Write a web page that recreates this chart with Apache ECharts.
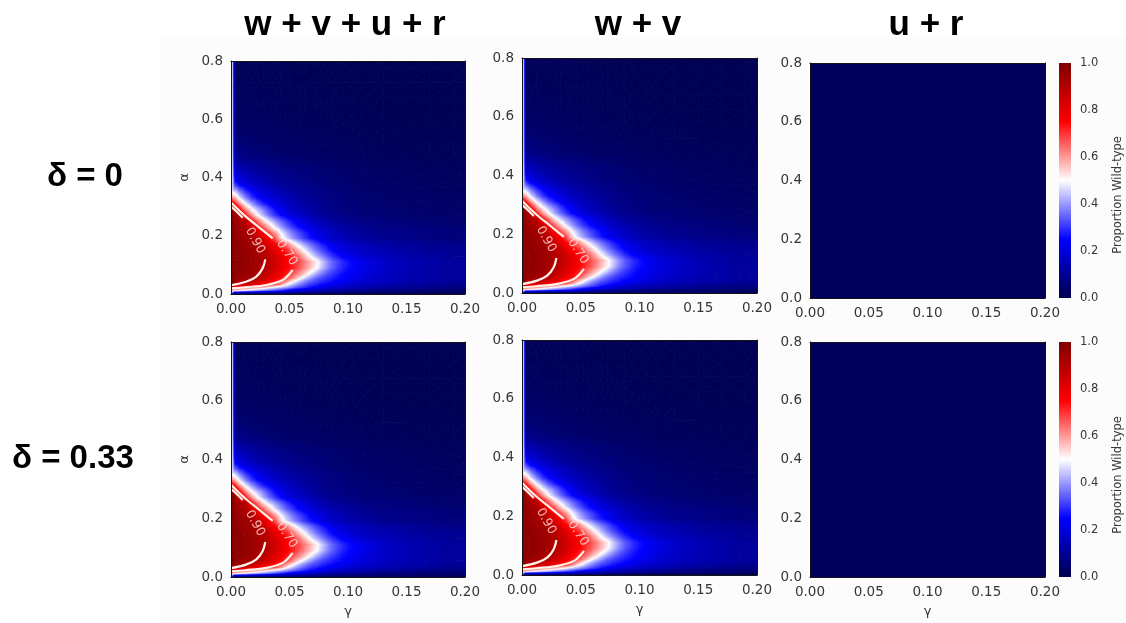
<!DOCTYPE html>
<html>
<head>
<meta charset="utf-8">
<script src="https://cdn.jsdelivr.net/npm/echarts@6/dist/echarts.min.js"></script>
<style>
  html, body { margin: 0; padding: 0; background: #ffffff; }
  #chart { width: 1126px; height: 623px; }
</style>
</head>
<body>
<div id="chart"></div>
<script>
// ---- grid of the (gamma, alpha) parameter plane ----
// cell edges along gamma (x) and alpha (y); first gamma cell is the gamma = 0 column
const gammaEdges = [0, 0.0012, 0.005, 0.01, 0.015, 0.02, 0.025, 0.03, 0.035, 0.04, 0.045,
  0.05, 0.055, 0.06, 0.065, 0.07, 0.075, 0.08, 0.085, 0.09, 0.10, 0.11, 0.12, 0.14, 0.16, 0.18, 0.20];
const alphaEdges = [0, 0.01, 0.02, 0.03, 0.04, 0.05, 0.06, 0.08, 0.10, 0.12, 0.14, 0.16, 0.18,
  0.20, 0.22, 0.24, 0.26, 0.28, 0.30, 0.32, 0.34, 0.36, 0.38, 0.40, 0.45, 0.50, 0.55, 0.60,
  0.65, 0.70, 0.75, 0.80];

// proportion wild-type, one row per alpha cell (bottom to top), one value per gamma cell
// (w + v + u + r and w + v give the same surface for both delta values)
const proportionWildType = [
  [0.30, 0.10, 0.095, 0.09, 0.085, 0.08, 0.078, 0.075, 0.072, 0.07, 0.067, 0.064, 0.061, 0.058, 0.055, 0.052, 0.05, 0.048, 0.046, 0.043, 0.04, 0.037, 0.033, 0.03, 0.027, 0.024],
  [0.62, 0.55, 0.52, 0.49, 0.46, 0.43, 0.40, 0.37, 0.34, 0.31, 0.27, 0.24, 0.22, 0.20, 0.18, 0.165, 0.15, 0.14, 0.13, 0.12, 0.105, 0.095, 0.08, 0.07, 0.06, 0.05],
  [0.85, 0.78, 0.74, 0.69, 0.65, 0.61, 0.57, 0.53, 0.49, 0.45, 0.41, 0.37, 0.33, 0.30, 0.27, 0.245, 0.225, 0.205, 0.19, 0.17, 0.15, 0.135, 0.115, 0.10, 0.085, 0.075],
  [0.97, 0.90, 0.87, 0.85, 0.82, 0.79, 0.76, 0.72, 0.68, 0.61, 0.52, 0.45, 0.39, 0.35, 0.31, 0.29, 0.265, 0.25, 0.23, 0.21, 0.185, 0.165, 0.145, 0.125, 0.11, 0.095],
  [0.99, 0.94, 0.92, 0.90, 0.87, 0.84, 0.81, 0.77, 0.73, 0.68, 0.60, 0.52, 0.45, 0.39, 0.35, 0.32, 0.295, 0.275, 0.255, 0.23, 0.20, 0.18, 0.155, 0.135, 0.12, 0.105],
  [0.99, 0.96, 0.95, 0.93, 0.915, 0.895, 0.86, 0.82, 0.78, 0.73, 0.68, 0.61, 0.53, 0.46, 0.40, 0.35, 0.32, 0.295, 0.275, 0.25, 0.22, 0.195, 0.165, 0.14, 0.125, 0.11],
  [0.99, 0.97, 0.965, 0.95, 0.935, 0.915, 0.885, 0.85, 0.81, 0.77, 0.72, 0.67, 0.61, 0.55, 0.48, 0.42, 0.37, 0.33, 0.30, 0.265, 0.23, 0.20, 0.17, 0.145, 0.125, 0.11],
  [0.99, 0.975, 0.97, 0.96, 0.945, 0.925, 0.905, 0.87, 0.835, 0.795, 0.755, 0.715, 0.67, 0.615, 0.56, 0.505, 0.44, 0.38, 0.335, 0.285, 0.24, 0.21, 0.175, 0.145, 0.125, 0.11],
  [0.99, 0.975, 0.97, 0.96, 0.945, 0.93, 0.91, 0.875, 0.84, 0.80, 0.76, 0.72, 0.68, 0.63, 0.575, 0.52, 0.45, 0.39, 0.34, 0.29, 0.245, 0.21, 0.175, 0.145, 0.125, 0.11],
  [0.99, 0.975, 0.97, 0.96, 0.945, 0.925, 0.905, 0.87, 0.83, 0.79, 0.75, 0.705, 0.64, 0.57, 0.495, 0.43, 0.375, 0.33, 0.29, 0.245, 0.205, 0.18, 0.155, 0.13, 0.115, 0.10],
  [0.99, 0.975, 0.965, 0.955, 0.94, 0.92, 0.89, 0.85, 0.80, 0.745, 0.705, 0.64, 0.56, 0.49, 0.42, 0.365, 0.32, 0.28, 0.245, 0.21, 0.18, 0.16, 0.14, 0.12, 0.105, 0.095],
  [0.99, 0.97, 0.96, 0.945, 0.93, 0.90, 0.85, 0.80, 0.75, 0.70, 0.63, 0.54, 0.47, 0.41, 0.36, 0.32, 0.28, 0.25, 0.22, 0.19, 0.165, 0.145, 0.125, 0.11, 0.095, 0.085],
  [0.99, 0.965, 0.955, 0.935, 0.915, 0.87, 0.81, 0.75, 0.67, 0.54, 0.46, 0.40, 0.35, 0.305, 0.27, 0.24, 0.21, 0.185, 0.165, 0.145, 0.125, 0.11, 0.095, 0.082, 0.072, 0.063],
  [0.99, 0.96, 0.945, 0.925, 0.90, 0.83, 0.75, 0.67, 0.59, 0.49, 0.42, 0.365, 0.32, 0.285, 0.25, 0.225, 0.20, 0.18, 0.16, 0.14, 0.12, 0.105, 0.09, 0.08, 0.07, 0.06],
  [0.99, 0.95, 0.935, 0.905, 0.84, 0.74, 0.65, 0.56, 0.47, 0.40, 0.345, 0.30, 0.26, 0.23, 0.205, 0.185, 0.165, 0.15, 0.135, 0.12, 0.10, 0.09, 0.078, 0.068, 0.06, 0.053],
  [0.99, 0.94, 0.92, 0.885, 0.75, 0.64, 0.54, 0.46, 0.40, 0.345, 0.30, 0.26, 0.23, 0.205, 0.18, 0.16, 0.145, 0.13, 0.115, 0.10, 0.088, 0.078, 0.068, 0.058, 0.052, 0.046],
  [0.99, 0.93, 0.89, 0.72, 0.60, 0.50, 0.42, 0.355, 0.30, 0.255, 0.22, 0.195, 0.175, 0.155, 0.14, 0.125, 0.11, 0.10, 0.09, 0.08, 0.07, 0.062, 0.055, 0.05, 0.045, 0.04],
  [0.95, 0.90, 0.74, 0.60, 0.50, 0.43, 0.37, 0.31, 0.26, 0.225, 0.195, 0.17, 0.155, 0.14, 0.125, 0.11, 0.10, 0.09, 0.08, 0.072, 0.064, 0.056, 0.05, 0.045, 0.04, 0.036],
  [0.78, 0.72, 0.59, 0.48, 0.40, 0.33, 0.28, 0.245, 0.215, 0.19, 0.17, 0.15, 0.135, 0.12, 0.11, 0.10, 0.09, 0.082, 0.075, 0.068, 0.06, 0.053, 0.047, 0.042, 0.037, 0.033],
  [0.60, 0.57, 0.46, 0.37, 0.30, 0.255, 0.225, 0.20, 0.18, 0.16, 0.145, 0.132, 0.12, 0.11, 0.10, 0.092, 0.084, 0.077, 0.07, 0.063, 0.056, 0.05, 0.045, 0.04, 0.035, 0.031],
  [0.48, 0.46, 0.37, 0.30, 0.255, 0.22, 0.195, 0.175, 0.158, 0.143, 0.13, 0.12, 0.11, 0.10, 0.092, 0.085, 0.078, 0.072, 0.066, 0.06, 0.053, 0.047, 0.042, 0.037, 0.033, 0.029],
  [0.46, 0.33, 0.27, 0.23, 0.20, 0.175, 0.158, 0.143, 0.13, 0.12, 0.11, 0.10, 0.093, 0.086, 0.08, 0.074, 0.069, 0.064, 0.059, 0.054, 0.048, 0.043, 0.038, 0.034, 0.03, 0.027],
  [0.46, 0.24, 0.205, 0.18, 0.16, 0.143, 0.13, 0.118, 0.108, 0.10, 0.092, 0.085, 0.079, 0.074, 0.069, 0.064, 0.06, 0.056, 0.052, 0.048, 0.043, 0.039, 0.035, 0.031, 0.028, 0.025],
  [0.46, 0.17, 0.15, 0.135, 0.122, 0.111, 0.102, 0.094, 0.087, 0.081, 0.076, 0.071, 0.067, 0.063, 0.059, 0.056, 0.053, 0.05, 0.047, 0.043, 0.039, 0.035, 0.032, 0.029, 0.026, 0.023],
  [0.46, 0.09, 0.08, 0.072, 0.066, 0.061, 0.057, 0.053, 0.05, 0.047, 0.045, 0.043, 0.041, 0.039, 0.037, 0.035, 0.034, 0.033, 0.031, 0.029, 0.027, 0.025, 0.023, 0.021, 0.019, 0.018],
  [0.46, 0.06, 0.055, 0.051, 0.048, 0.045, 0.042, 0.04, 0.038, 0.036, 0.034, 0.033, 0.031, 0.03, 0.029, 0.028, 0.027, 0.026, 0.025, 0.024, 0.022, 0.021, 0.019, 0.018, 0.017, 0.016],
  [0.46, 0.042, 0.039, 0.037, 0.035, 0.033, 0.032, 0.03, 0.029, 0.028, 0.027, 0.026, 0.025, 0.024, 0.023, 0.022, 0.022, 0.021, 0.02, 0.019, 0.018, 0.017, 0.016, 0.015, 0.014, 0.014],
  [0.46, 0.032, 0.03, 0.029, 0.027, 0.026, 0.025, 0.024, 0.023, 0.022, 0.022, 0.021, 0.02, 0.02, 0.019, 0.019, 0.018, 0.018, 0.017, 0.016, 0.016, 0.015, 0.014, 0.013, 0.013, 0.012],
  [0.46, 0.026, 0.025, 0.024, 0.023, 0.022, 0.021, 0.021, 0.02, 0.02, 0.019, 0.019, 0.018, 0.018, 0.017, 0.017, 0.016, 0.016, 0.015, 0.015, 0.014, 0.013, 0.013, 0.012, 0.012, 0.011],
  [0.46, 0.022, 0.021, 0.02, 0.02, 0.019, 0.019, 0.018, 0.018, 0.017, 0.017, 0.016, 0.016, 0.016, 0.015, 0.015, 0.015, 0.014, 0.014, 0.013, 0.013, 0.012, 0.012, 0.011, 0.011, 0.01],
  [0.46, 0.019, 0.018, 0.018, 0.017, 0.017, 0.016, 0.016, 0.016, 0.015, 0.015, 0.015, 0.014, 0.014, 0.014, 0.013, 0.013, 0.013, 0.012, 0.012, 0.012, 0.011, 0.011, 0.01, 0.01, 0.01]
];

// u + r: uniformly low over the whole plane
const proportionUR = 0.02;

// labelled contour levels (gamma, alpha), broken where the inline labels sit
const contour90Upper = [[0, 0.300], [0.004, 0.286], [0.010, 0.262]];
const contour90Lower = [[0, 0.030], [0.0128, 0.042], [0.0214, 0.059], [0.027, 0.088], [0.0293, 0.119]];
const contour70Upper = [[0, 0.314], [0.012, 0.268], [0.024, 0.229], [0.0356, 0.191]];
const contour70Lower = [[0.0527, 0.0824], [0.0442, 0.048], [0.030, 0.031], [0.012, 0.023], [0, 0.019]];
const contourLabels = [[0.0205, 0.183, '0.90'], [0.0476, 0.142, '0.70']];

// text
const columnTitles = ['w + v + u + r', 'w + v', 'u + r'];
const rowTitles = ['δ = 0', 'δ = 0.33'];
const colorbarTitle = 'Proportion Wild-type';
const gammaName = 'γ';
const alphaName = 'α';

// seismic colour ramp, 0 -> 1
const seismic = ['#00004d', '#0000ff', '#ffffff', '#ff0000', '#800000'];

// ---- layout ----
const panels = [
  { box: [231, 61, 234, 233], field: 'wt', alpha: true, gamma: false },
  { box: [522, 58, 235, 235], field: 'wt', alpha: false, gamma: false },
  { box: [810, 63, 235, 235], field: 'ur', alpha: false, gamma: false },
  { box: [231, 342, 234, 235], field: 'wt', alpha: true, gamma: true },
  { box: [522, 340, 235, 235], field: 'wt', alpha: false, gamma: true },
  { box: [810, 342, 235, 235], field: 'ur', alpha: false, gamma: true }
];
const colorbars = [[1059, 63, 12, 235], [1059, 342, 12, 235]];

const tickFont = 'DejaVu Sans';
const tickColor = '#363636';

// ---- colour lookup on the seismic ramp ----
const rampRGB = seismic.map(h => [1, 3, 5].map(o => parseInt(h.substr(o, 2), 16)));
function rampColor(v) {
  const x = Math.max(0, Math.min(1, v)) * (rampRGB.length - 1);
  const i = Math.min(rampRGB.length - 2, Math.floor(x));
  const t = x - i;
  const c = rampRGB[i].map((a, k) => Math.round(a + (rampRGB[i + 1][k] - a) * t));
  return 'rgb(' + c.join(',') + ')';
}

// ---- shaded surface: grid values sit at cell centres, shaded as filled bands ----
// band boundaries: fine steps in the dark low range, then 0.0125 steps
const bandLevels = [];
for (let k = 0; k < 30; k++) bandLevels.push(+(k * 0.005).toFixed(4));
for (let k = 0; k < 68; k++) bandLevels.push(+(0.15 + k * 0.0125).toFixed(4));
bandLevels.push(1.0001);
const NBANDS = bandLevels.length - 1;
const bandColors = bandLevels.slice(0, -1).map((l, k) => rampColor((l + Math.min(1, bandLevels[k + 1])) / 2));

function bandIndex(v) {
  let k = 0;
  while (k < NBANDS - 1 && bandLevels[k + 1] <= v) k++;
  return k;
}
function centres(edges) {
  const c = [];
  for (let i = 0; i < edges.length - 1; i++) c.push((edges[i] + edges[i + 1]) / 2);
  return c;
}
function surfaceQuads(grid) {
  const gN = [gammaEdges[0], ...centres(gammaEdges), gammaEdges[gammaEdges.length - 1]];
  const aN = [alphaEdges[0], ...centres(alphaEdges), alphaEdges[alphaEdges.length - 1]];
  const rows = grid.map(r => [r[0], ...r, r[r.length - 1]]);
  const V = [rows[0], ...rows, rows[rows.length - 1]];
  const out = [];
  for (let j = 0; j < aN.length - 1; j++) {
    for (let i = 0; i < gN.length - 1; i++) {
      out.push([gN[i], gN[i + 1], aN[j], aN[j + 1], V[j][i], V[j][i + 1], V[j + 1][i], V[j + 1][i + 1]]);
    }
  }
  return out;
}

// part of a triangle where the value is >= level
function clipAbove(pts, vals, level) {
  const out = [];
  for (let k = 0; k < pts.length; k++) {
    const n = (k + 1) % pts.length;
    const inA = vals[k] >= level, inB = vals[n] >= level;
    if (inA) out.push(pts[k]);
    if (inA !== inB) {
      const t = (level - vals[k]) / (vals[n] - vals[k]);
      out.push([pts[k][0] + (pts[n][0] - pts[k][0]) * t, pts[k][1] + (pts[n][1] - pts[k][1]) * t]);
    }
  }
  return out;
}
// bands are stacked by level (z2) so higher bands always paint over lower ones
function bandPoly(points, k) {
  const c = bandColors[k];
  return { type: 'polygon', z2: k, shape: { points: points }, style: { fill: c, stroke: c, lineWidth: 0.8 } };
}
function renderSurface(params, api) {
  const g0 = api.value(0), g1 = api.value(1), a0 = api.value(2), a1 = api.value(3);
  const v = [api.value(4), api.value(5), api.value(6), api.value(7)];
  const p = [api.coord([g0, a0]), api.coord([g1, a0]), api.coord([g0, a1]), api.coord([g1, a1])];
  const children = [];
  [[0, 1, 3], [0, 3, 2]].forEach(t => {
    const pts = t.map(k => p[k]);
    const vals = t.map(k => v[k]);
    const lo = Math.min(...vals), hi = Math.max(...vals);
    const k0 = bandIndex(lo);
    children.push(bandPoly(pts, k0));
    for (let k = k0 + 1; k < NBANDS && bandLevels[k] < hi; k++) {
      const cl = clipAbove(pts, vals, bandLevels[k]);
      if (cl.length >= 3) children.push(bandPoly(cl, k));
    }
  });
  return { type: 'group', children: children };
}
function renderFlat(params, api) {
  const p0 = api.coord([api.value(0), api.value(3)]);
  const p1 = api.coord([api.value(1), api.value(2)]);
  return {
    type: 'rect',
    shape: { x: p0[0], y: p0[1], width: p1[0] - p0[0], height: p1[1] - p0[1] },
    style: { fill: rampColor(api.value(4)) }
  };
}
function renderColorbar(params, api) {
  const p0 = api.coord([api.value(0), api.value(3)]);
  const p1 = api.coord([api.value(1), api.value(2)]);
  return {
    type: 'rect',
    shape: { x: p0[0], y: p0[1], width: p1[0] - p0[0], height: p1[1] - p0[1] },
    style: {
      fill: {
        type: 'linear', x: 0, y: 0, x2: 0, y2: 1,
        colorStops: seismic.slice().reverse().map((c, n) => ({ offset: n / (seismic.length - 1), color: c }))
      }
    }
  };
}

const wtQuads = surfaceQuads(proportionWildType);
const urCells = [[0, 0.2, 0, 0.8, proportionUR]];

const grids = [], xAxes = [], yAxes = [], series = [];
const frameLine = { show: true, onZero: false, lineStyle: { color: '#141414', width: 1 } };

panels.forEach((p, i) => {
  grids.push({ left: p.box[0], top: p.box[1], width: p.box[2], height: p.box[3], containLabel: false });
  xAxes.push({
    gridIndex: i, type: 'value', min: 0, max: 0.2, interval: 0.05, position: 'bottom', z: 5,
    axisLine: frameLine, axisTick: { show: false }, splitLine: { show: false },
    axisLabel: { formatter: v => v.toFixed(2), fontSize: 13.5, color: tickColor, fontFamily: tickFont, margin: 8 },
    name: p.gamma ? gammaName : '', nameLocation: 'middle', nameGap: 28,
    nameTextStyle: { fontSize: 13, color: tickColor, fontFamily: tickFont }
  });
  xAxes.push({
    gridIndex: i, type: 'value', min: 0, max: 0.2, position: 'top', z: 5,
    axisLine: frameLine, axisTick: { show: false }, splitLine: { show: false }, axisLabel: { show: false }
  });
  yAxes.push({
    gridIndex: i, type: 'value', min: 0, max: 0.8, interval: 0.2, position: 'left', z: 5,
    axisLine: frameLine, axisTick: { show: false }, splitLine: { show: false },
    axisLabel: { formatter: v => v.toFixed(1), fontSize: 13.5, color: tickColor, fontFamily: tickFont, margin: 8 },
    name: p.alpha ? alphaName : '', nameLocation: 'middle', nameGap: 40, nameRotate: 90,
    nameTextStyle: { fontSize: 13, color: tickColor, fontFamily: tickFont }
  });
  yAxes.push({
    gridIndex: i, type: 'value', min: 0, max: 0.8, position: 'right', z: 5,
    axisLine: frameLine, axisTick: { show: false }, splitLine: { show: false }, axisLabel: { show: false }
  });

  series.push({
    type: 'custom', xAxisIndex: 2 * i, yAxisIndex: 2 * i, clip: true, silent: true, z: 1,
    renderItem: p.field === 'wt' ? renderSurface : renderFlat,
    encode: { x: [0, 1], y: [2, 3] },
    data: p.field === 'wt' ? wtQuads : urCells
  });

  if (p.field === 'wt') {
    [contour90Upper, contour90Lower, contour70Upper, contour70Lower].forEach(seg => {
      series.push({
        type: 'line', xAxisIndex: 2 * i, yAxisIndex: 2 * i, data: seg, smooth: 0.35,
        symbol: 'none', silent: true, z: 3, clip: true,
        lineStyle: { color: '#fff2ea', width: 2.2 }
      });
    });
    series.push({
      type: 'scatter', xAxisIndex: 2 * i, yAxisIndex: 2 * i, silent: true, z: 4,
      symbolSize: 2, itemStyle: { color: 'rgba(0,0,0,0)' },
      data: contourLabels.map((c, k) => ({
        value: c,
        label: { rotate: k === 0 ? -61 : -57 }
      })),
      label: {
        show: true, position: 'inside', formatter: q => q.value[2],
        fontSize: 12.5, color: '#ffe6de', fontFamily: tickFont
      },
      labelLayout: { hideOverlap: false }
    });
  }
});

// colour bars (grids 6 and 7, axes 12 and 13)
colorbars.forEach((b, k) => {
  const gi = panels.length + k;
  const ai = panels.length * 2 + k;
  grids.push({ left: b[0], top: b[1], width: b[2], height: b[3] });
  xAxes.push({ gridIndex: gi, type: 'value', min: 0, max: 1, show: false });
  yAxes.push({
    gridIndex: gi, type: 'value', min: 0, max: 1, interval: 0.2, position: 'right',
    axisLine: { show: false }, axisTick: { show: false }, splitLine: { show: false },
    axisLabel: { formatter: v => v.toFixed(1), fontSize: 11.5, color: tickColor, fontFamily: tickFont, margin: 9 }
  });
  series.push({
    type: 'custom', xAxisIndex: ai, yAxisIndex: ai, silent: true,
    data: [[0, 1, 0, 1]], encode: { x: [0, 1], y: [2, 3] },
    renderItem: renderColorbar
  });
});

const titleFont = '"Liberation Sans", Arial, sans-serif';
const graphics = [
  { type: 'rect', z: -10, shape: { x: 160, y: 38, width: 966, height: 585 }, style: { fill: '#fcfcfc' }, silent: true },
  { type: 'text', x: 345, y: 25, style: { text: columnTitles[0], font: 'bold 35px ' + titleFont, fill: '#000', align: 'center', verticalAlign: 'middle' } },
  { type: 'text', x: 638, y: 25, style: { text: columnTitles[1], font: 'bold 35px ' + titleFont, fill: '#000', align: 'center', verticalAlign: 'middle' } },
  { type: 'text', x: 926, y: 25, style: { text: columnTitles[2], font: 'bold 35px ' + titleFont, fill: '#000', align: 'center', verticalAlign: 'middle' } },
  { type: 'text', x: 47, y: 177, style: { text: rowTitles[0], font: 'bold 33px ' + titleFont, fill: '#000', align: 'left', verticalAlign: 'middle' } },
  { type: 'text', x: 12, y: 459, style: { text: rowTitles[1], font: 'bold 33px ' + titleFont, fill: '#000', align: 'left', verticalAlign: 'middle' } },
  { type: 'text', x: 1118, y: 195, rotation: Math.PI / 2, style: { text: colorbarTitle, font: '11.5px "DejaVu Sans"', fill: tickColor, align: 'center', verticalAlign: 'middle' } },
  { type: 'text', x: 1118, y: 475, rotation: Math.PI / 2, style: { text: colorbarTitle, font: '11.5px "DejaVu Sans"', fill: tickColor, align: 'center', verticalAlign: 'middle' } }
];

const chart = echarts.init(document.getElementById('chart'), null, { renderer: 'canvas' });
chart.setOption({
  animation: false,
  backgroundColor: '#ffffff',
  grid: grids,
  xAxis: xAxes,
  yAxis: yAxes,
  series: series,
  graphic: graphics
});
</script>
</body>
</html>
